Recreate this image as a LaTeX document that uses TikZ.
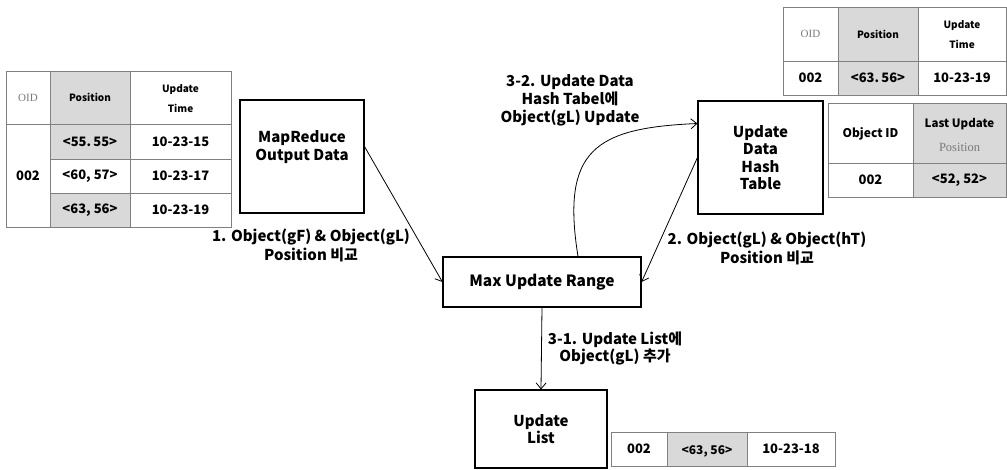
\documentclass[tikz,border=0pt]{standalone}
\usepackage{fontspec}
\setmainfont{Noto Sans CJK KR}
\newfontfamily\serifl{Liberation Serif}
\usetikzlibrary{arrows.meta}
\definecolor{cellgray}{HTML}{D9D9D9}
\definecolor{linegray}{HTML}{808080}
\definecolor{lighttxt}{HTML}{7A7A7A}
\tikzset{
  box/.style={draw=black,line width=1.1pt,fill=white,align=center,inner sep=0pt,
    font=\fontsize{15}{17.5}\selectfont\bfseries},
  lbl/.style={align=center,inner sep=0pt,font=\fontsize{15}{19}\selectfont\bfseries},
  conn/.style={line width=0.8pt,-{Straight Barb[length=6pt,width=10pt]}},
  tline/.style={draw=linegray,line width=0.8pt},
  gcell/.style={fill=cellgray},
  tdat/.style={inner sep=0pt,align=center,font=\fontsize{13}{15}\selectfont\bfseries},
  thead/.style={inner sep=0pt,align=center,font=\fontsize{10}{20}\selectfont\bfseries},
  tlight/.style={inner sep=0pt,align=center,text=lighttxt,font=\fontsize{11}{13}\serifl},
}
\begin{document}
\begin{tikzpicture}[x=1pt,y=-1pt]
\useasboundingbox (0,0) rectangle (1007,470);
\fill[white] (0,0) rectangle (1007,470);

% ---------- left table ----------
\fill[gcell] (50,71) rectangle (130,124);
\fill[gcell] (50,124) rectangle (130,159);
\fill[gcell] (50,193) rectangle (130,227);
\draw[tline] (6,71) rectangle (231,227);
\draw[tline] (50,71) -- (50,227);
\draw[tline] (130,71) -- (130,227);
\draw[tline] (6,124) -- (231,124);
\draw[tline] (50,159) -- (231,159);
\draw[tline] (50,193) -- (231,193);
\node[tlight] (t1oid) at (28,97.5) {OID};
\node[thead] (t1pos) at (90,97.5) {Position};
\node[thead] (t1upd) at (180.5,99) {Update\\Time};
\node[tdat] (t1id) at (28,176) {002};
\node[tdat] (t1p1) at (90,141.5) {<55.\,55>};
\node[tdat] (t1u1) at (180.5,141.5) {10-23-15};
\node[tdat] (t1p2) at (90,176) {<60, 57>};
\node[tdat] (t1u2) at (180.5,176) {10-23-17};
\node[tdat] (t1p3) at (90,210) {<63, 56>};
\node[tdat] (t1u3) at (180.5,210) {10-23-19};

% ---------- top right table ----------
\fill[gcell] (838,7) rectangle (918,95);
\draw[tline] (783,7) rectangle (1006,95);
\draw[tline] (838,7) -- (838,95);
\draw[tline] (918,7) -- (918,95);
\draw[tline] (783,61) -- (1006,61);
\node[tlight] (t2oid) at (810.5,34) {OID};
\node[thead] (t2pos) at (878,34) {Position};
\node[thead] (t2upd) at (962,35) {Update\\Time};
\node[tdat] (t2id) at (810.5,78) {002};
\node[tdat] (t2p) at (878,78) {<63.\,56>};
\node[tdat] (t2u) at (962,78) {10-23-19};

% ---------- object id table ----------
\fill[gcell] (913,103) rectangle (1006,197);
\draw[tline] (828,103) rectangle (1006,197);
\draw[tline] (913,103) -- (913,197);
\draw[tline] (828,163) -- (1006,163);
\node[thead,font=\fontsize{12}{13}\selectfont\bfseries] (t3oid) at (870.5,134) {Object ID};
\node[thead,font=\fontsize{11.5}{13}\selectfont\bfseries] (t3last) at (959.5,124) {Last Update};
\node[tlight,font=\fontsize{12.5}{13}\serifl] (t3pos) at (959.5,147) {Position};
\node[tdat] (t3id) at (870.5,180) {002};
\node[tdat] (t3p) at (959.5,180) {<52, 52>};

% ---------- bottom table ----------
\fill[gcell] (667,432) rectangle (747,466);
\draw[tline] (611,432) rectangle (835,466);
\draw[tline] (667,432) -- (667,466);
\draw[tline] (747,432) -- (747,466);
\node[tdat] (t4id) at (639,449) {002};
\node[tdat,font=\fontsize{12}{15}\selectfont\bfseries] (t4p) at (707,451) {<63, 56>};
\node[tdat] (t4u) at (791,449) {10-23-18};

% ---------- boxes ----------
\node[box,minimum width=124pt,minimum height=113pt,text depth=22pt] (mr) at (302,156.5) {MapReduce\\Output Data};
\node[box,minimum width=198pt,minimum height=50pt,font=\fontsize{15.5}{18}\selectfont\bfseries] (mx) at (542,282) {Max Update Range};
\node[box,minimum width=132pt,minimum height=78pt] (ul) at (541,429) {Update\\List};
\node[box,minimum width=125pt,minimum height=113pt] (ht) at (760.5,157.5) {Update\\Data\\Hash\\Table};

% ---------- connectors ----------
\draw[conn] (mr.9) -- (mx.west);
\draw[conn] (ht.west) -- (mx.east);
\draw[conn] ([xshift=36pt]mx.north) .. controls (561,150) and (595,128) .. ([yshift=34pt]ht.west);
\draw[conn] (mx.south) -- (ul.north);

% ---------- labels ----------
\node[lbl] (l1) at (311,245) {1. Object(gF) \& Object(gL)\\Position 비교};
\node[lbl] (l2) at (767,248) {2. Object(gL) \& Object(hT)\\Position 비교};
\node[lbl,font=\fontsize{15}{18}\selectfont\bfseries] (l32) at (570,100) {3-2. Update Data\\Hash Tabel에\\Object(gL) Update};
\node[lbl,font=\fontsize{15}{17.5}\selectfont\bfseries] (l31) at (615,348.5) {3-1. Update List에\\Object(gL) 추가};
\end{tikzpicture}
\end{document}
